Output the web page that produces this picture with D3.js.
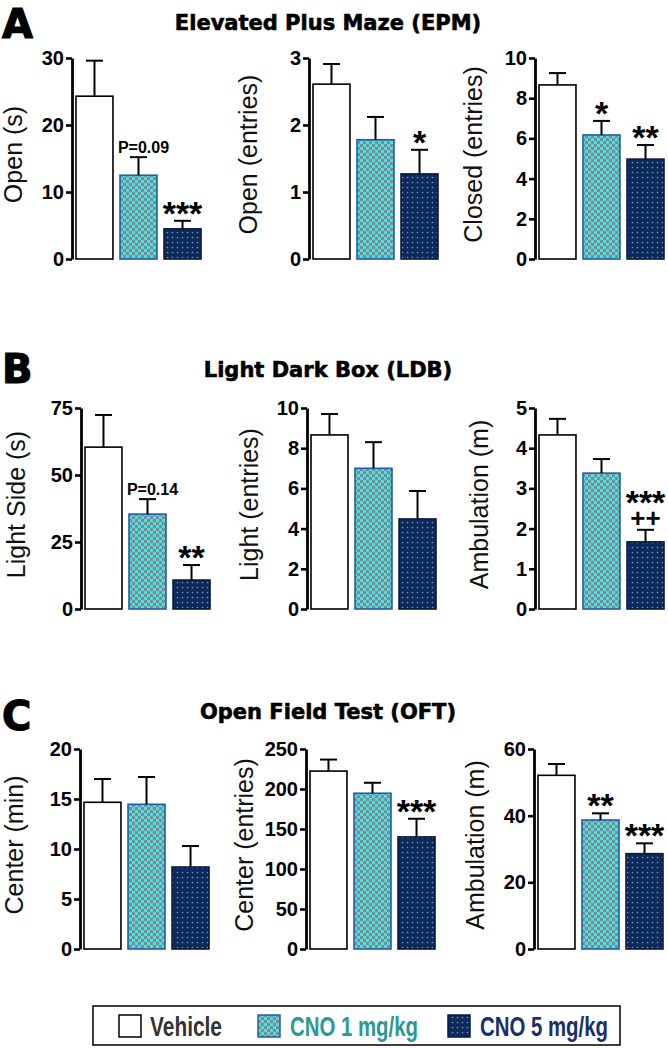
<!DOCTYPE html>
<html><head><meta charset="utf-8">
<script src="https://cdn.jsdelivr.net/npm/d3@7"></script>
<style>body{margin:0;background:#fff}svg{display:block}</style>
</head><body><svg id="c" width="668" height="1048"></svg>
<script>
// ---------- data ----------
const groups = ["Vehicle", "CNO 1 mg/kg", "CNO 5 mg/kg"];
const sectionLetters = ["A", "B", "C"];
const sectionTitles = ["Elevated Plus Maze (EPM)", "Light Dark Box (LDB)", "Open Field Test (OFT)"];

const epmOpenTime = [24.3, 12.5, 4.5];
const epmOpenTimeSem = [5.3, 2.7, 1.2];
const epmOpenEntries = [2.61, 1.78, 1.27];
const epmOpenEntriesSem = [0.30, 0.34, 0.36];
const epmClosedEntries = [8.66, 6.17, 4.97];
const epmClosedEntriesSem = [0.59, 0.70, 0.70];

const ldbLightTime = [60.4, 35.4, 10.8];
const ldbLightTimeSem = [12.0, 5.6, 5.6];
const ldbLightEntries = [8.66, 7.0, 4.48];
const ldbLightEntriesSem = [1.04, 1.3, 1.39];
const ldbAmbulation = [4.33, 3.38, 1.67];
const ldbAmbulationSem = [0.40, 0.35, 0.30];

const oftCenterTime = [14.67, 14.47, 8.2];
const oftCenterTimeSem = [2.33, 2.73, 2.1];
const oftCenterEntries = [222.4, 194.7, 140.1];
const oftCenterEntriesSem = [14.4, 13.1, 22.7];
const oftAmbulation = [52.1, 38.7, 28.6];
const oftAmbulationSem = [3.4, 2.0, 3.1];

const yLabels = [
  ["Open (s)", "Open (entries)", "Closed (entries)"],
  ["Light Side (s)", "Light (entries)", "Ambulation (m)"],
  ["Center (min)", "Center (entries)", "Ambulation (m)"]
];
const yMaxes = [[30, 3, 10], [75, 10, 5], [20, 250, 60]];
const yTickSteps = [[10, 1, 2], [25, 2, 1], [5, 50, 20]];
const sigMarks = [
  [["", "P=0.09", "***"], ["", "", "*"], ["", "*", "**"]],
  [["", "P=0.14", "**"], ["", "", ""], ["", "", "***|++"]],
  [["", "", ""], ["", "", "***"], ["", "**", "***"]]
];

const panelData = [
  [[epmOpenTime, epmOpenTimeSem], [epmOpenEntries, epmOpenEntriesSem], [epmClosedEntries, epmClosedEntriesSem]],
  [[ldbLightTime, ldbLightTimeSem], [ldbLightEntries, ldbLightEntriesSem], [ldbAmbulation, ldbAmbulationSem]],
  [[oftCenterTime, oftCenterTimeSem], [oftCenterEntries, oftCenterEntriesSem], [oftAmbulation, oftAmbulationSem]]
];

// ---------- layout ----------
const rowTop = [58, 408, 749];
const rowBottom = [259, 609, 949];
const axisXs = [[72, 309, 535], [81, 307, 535], [80, 306, 534]];
const labelOffsets = [[50, 52, 53], [56, 49, 47], [57, 53, 50]];
const letterBaselines = [38, 383, 730];
const titleBaselines = [30, 377, 719];

const fills = ["#ffffff", "url(#chk)", "url(#dots)"];
const strokes = ["#000000", "#1d5ea8", "#0a1a3c"];

const svg = d3.select("#c");
const defs = svg.append("defs");
const chk = defs.append("pattern").attr("id", "chk").attr("patternUnits", "userSpaceOnUse")
  .attr("width", 6).attr("height", 6);
chk.append("rect").attr("width", 6).attr("height", 6).attr("fill", "#3fe6de");
chk.append("rect").attr("width", 3).attr("height", 3).attr("fill", "#7f8a96");
chk.append("rect").attr("x", 3).attr("y", 3).attr("width", 3).attr("height", 3).attr("fill", "#7f8a96");
const dots = defs.append("pattern").attr("id", "dots").attr("patternUnits", "userSpaceOnUse")
  .attr("width", 5).attr("height", 5);
dots.append("rect").attr("width", 5).attr("height", 5).attr("fill", "#0c2a5a");
dots.append("circle").attr("cx", 2.5).attr("cy", 2.5).attr("r", 0.85).attr("fill", "#6f90c6");

// section letters & titles
sectionLetters.forEach((L, r) => {
  svg.append("text").attr("x", 2).attr("y", letterBaselines[r]).text(L)
    .attr("font-family", "DejaVu Sans").attr("font-weight", "bold").attr("font-size", 40)
    .attr("fill", "#000").attr("stroke", "#000").attr("stroke-width", 1.2);
  svg.append("text").attr("x", 328).attr("y", titleBaselines[r]).text(sectionTitles[r])
    .attr("text-anchor", "middle")
    .attr("font-family", "DejaVu Sans").attr("font-weight", "bold").attr("font-size", 21)
    .attr("fill", "#000").attr("stroke", "#000").attr("stroke-width", 0.6);
});

const boldText = (sel, size) => sel.attr("font-family", "Liberation Sans").attr("font-weight", "bold")
  .attr("font-size", size).attr("fill", "#000").attr("text-anchor", "middle");

for (let r = 0; r < 3; r++) {
  for (let c = 0; c < 3; c++) {
    const [vals, sems] = panelData[r][c];
    const ax = axisXs[r][c];
    const yMax = yMaxes[r][c], step = yTickSteps[r][c];
    const y = d3.scaleLinear().domain([0, yMax]).range([rowBottom[r], rowTop[r]]);
    const x = d3.scaleBand().domain(groups).range([ax + 4, ax + 129]).paddingInner(0.16);
    const g = svg.append("g");

    // bars
    g.selectAll("rect.bar").data(groups).join("rect").attr("class", "bar")
      .attr("x", d => x(d)).attr("width", x.bandwidth())
      .attr("y", (d, i) => y(vals[i])).attr("height", (d, i) => y(0) - y(vals[i]))
      .attr("fill", (d, i) => fills[i]).attr("stroke", (d, i) => strokes[i]).attr("stroke-width", 1.6);

    // error bars (upper only) and significance marks
    groups.forEach((gname, i) => {
      const cx = x(gname) + x.bandwidth() / 2;
      const top = y(vals[i] + sems[i]);
      g.append("line").attr("x1", cx).attr("x2", cx).attr("y1", y(vals[i])).attr("y2", top)
        .attr("stroke", "#000").attr("stroke-width", 2);
      g.append("line").attr("x1", cx - 8.5).attr("x2", cx + 8.5).attr("y1", top).attr("y2", top)
        .attr("stroke", "#000").attr("stroke-width", 2);
      const m = sigMarks[r][c][i];
      if (!m) return;
      if (m.startsWith("P=")) {
        boldText(g.append("text").attr("x", cx + 5).attr("y", top - 4).text(m), 16);
      } else {
        const parts = m.split("|");
        if (parts.length === 1) {
          boldText(g.append("text").attr("x", cx).attr("y", top + 4).text(parts[0]), 34);
        } else {
          boldText(g.append("text").attr("x", cx).attr("y", top - 3).text(parts[1]), 26);
          boldText(g.append("text").attr("x", cx).attr("y", top - 16).text(parts[0]), 34);
        }
      }
    });

    // axis
    const axis = d3.axisLeft(y).tickValues(d3.range(0, yMax + step / 2, step))
      .tickSize(6).tickSizeOuter(0).tickPadding(2).tickFormat(d3.format("d"));
    const ag = svg.append("g").attr("transform", `translate(${ax},0)`).call(axis);
    ag.select(".domain").attr("stroke", "#000").attr("stroke-width", 2.8);
    ag.selectAll(".tick line").attr("stroke", "#000").attr("stroke-width", 2.6);
    ag.selectAll(".tick text").attr("fill", "#000")
      .attr("font-family", "Liberation Sans").attr("font-weight", "bold").attr("font-size", 20);

    // y label
    const midY = (rowTop[r] + rowBottom[r]) / 2 - 4;
    svg.append("text").attr("transform", `translate(${ax - labelOffsets[r][c]},${midY}) rotate(-90)`)
      .attr("text-anchor", "middle").text(yLabels[r][c])
      .attr("font-family", "Liberation Sans").attr("font-size", 25).attr("fill", "#111");
  }
}

// legend
const legendBoxX = [119, 258, 448];
const legendTextX = [150, 290, 480];
const legendTextColors = ["#333333", "#2a9a92", "#16306c"];
const legendTextLen = [72, 128, 128];
svg.append("rect").attr("x", 93).attr("y", 1006).attr("width", 527).attr("height", 39)
  .attr("fill", "none").attr("stroke", "#000").attr("stroke-width", 1.5);
groups.forEach((gname, i) => {
  svg.append("rect").attr("x", legendBoxX[i]).attr("y", 1015).attr("width", 22).attr("height", 22)
    .attr("fill", fills[i]).attr("stroke", strokes[i]).attr("stroke-width", 1.5);
  svg.append("text").attr("x", legendTextX[i]).attr("y", 1036).text(gname)
    .attr("font-family", "Liberation Sans").attr("font-weight", "bold").attr("font-size", 27)
    .attr("textLength", legendTextLen[i]).attr("lengthAdjust", "spacingAndGlyphs")
    .attr("fill", legendTextColors[i]);
});
</script></body></html>
